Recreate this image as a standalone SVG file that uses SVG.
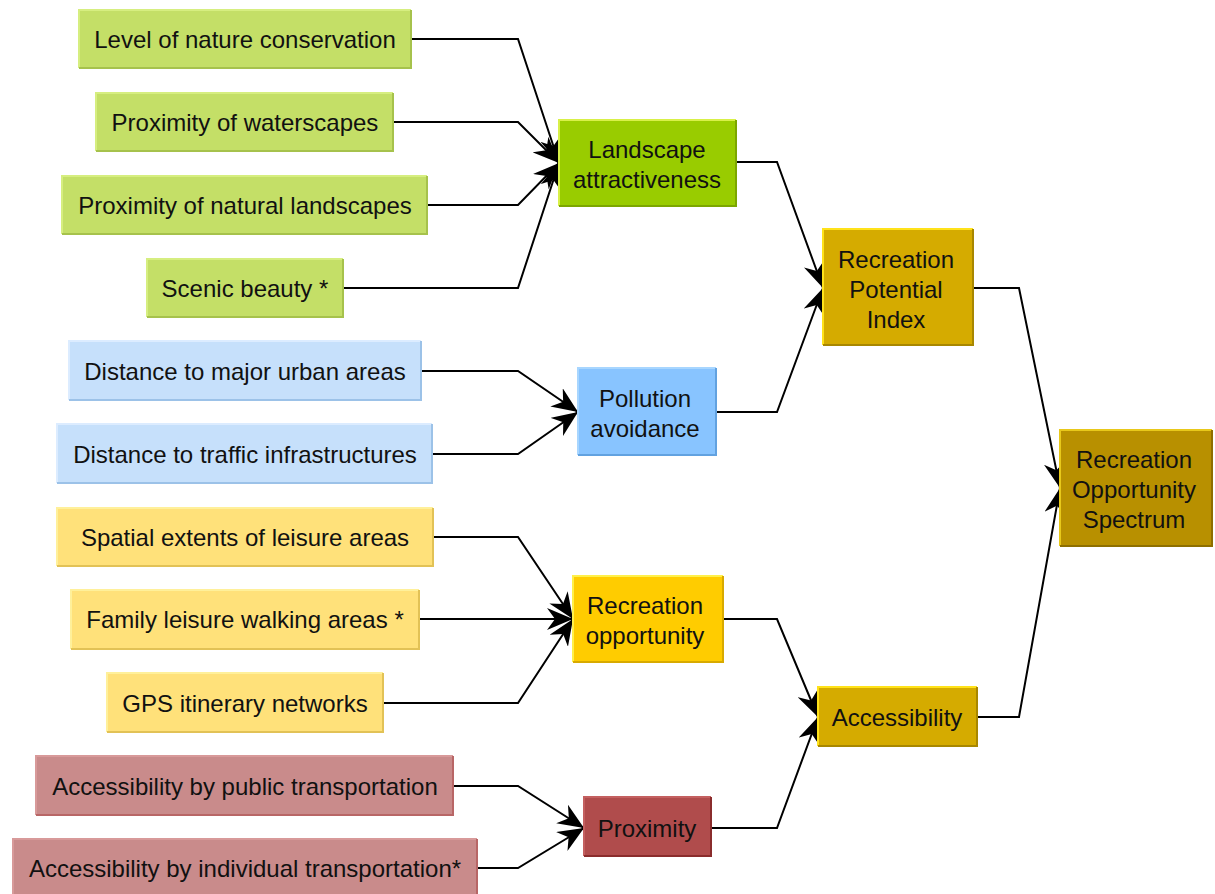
<svg xmlns="http://www.w3.org/2000/svg" width="1215" height="894" viewBox="0 0 1215 894">
<style>
text{font-family:"Liberation Sans",Arial,sans-serif;font-size:24px;fill:#111;text-anchor:middle;dominant-baseline:central}
.c{fill:none;stroke:#000;stroke-width:2;marker-end:url(#ah)}
.hi{fill:none;stroke-width:2}
.lo{fill:none;stroke-width:2}
.lg rect{fill:#c4df67}.lg .hi{stroke:#d6ee80}.lg .lo{stroke:#a6c24c}
.dg rect{fill:#99cc00}.dg .hi{stroke:#d8f048}.dg .lo{stroke:#7ca600}
.lb rect{fill:#c6e0fb}.lb .hi{stroke:#dcecff}.lb .lo{stroke:#9cc2e8}
.bl rect{fill:#88c4ff}.bl .hi{stroke:#a8d6ff}.bl .lo{stroke:#62a2e0}
.ly rect{fill:#ffe17a}.ly .hi{stroke:#fff09a}.ly .lo{stroke:#e2c256}
.ye rect{fill:#ffcc00}.ye .hi{stroke:#fff04a}.ye .lo{stroke:#d8aa00}
.go rect{fill:#d5ab00}.go .hi{stroke:#ffe21a}.go .lo{stroke:#a88700}
.dk rect{fill:#b89000}.dk .hi{stroke:#e8c81a}.dk .lo{stroke:#8e6f00}
.pk rect{fill:#c98b8b}.pk .hi{stroke:#d89a9a}.pk .lo{stroke:#b86666}
.rd rect{fill:#b04c4c}.rd .hi{stroke:#c46060}.rd .lo{stroke:#8a2c2c}
</style>
<defs>
<marker id="ah" markerUnits="userSpaceOnUse" markerWidth="28" markerHeight="22" viewBox="0 0 28 22" refX="26" refY="11" orient="auto">
<path d="M0,0 L26,11 L0,22 L8,11 Z" fill="#000"/>
</marker>
</defs>
<g id="connectors">
<polyline class="c" points="411,39 518,39 559,163"/>
<polyline class="c" points="393,122 518,122 559,163"/>
<polyline class="c" points="427,205 518,205 559,163"/>
<polyline class="c" points="343,288 518,288 559,163"/>
<polyline class="c" points="736,162 777,162 823,288"/>
<polyline class="c" points="716,412 777,412 823,288"/>
<polyline class="c" points="973,288 1019,288 1060,488"/>
<polyline class="c" points="977,717 1019,717 1060,488"/>
<polyline class="c" points="421,371 518,371 578,412"/>
<polyline class="c" points="432,454 518,454 578,412"/>
<polyline class="c" points="433,537 518,537 573,619"/>
<polyline class="c" points="419,619 573,619"/>
<polyline class="c" points="383,703 518,703 573,619"/>
<polyline class="c" points="723,619 777,619 818,717"/>
<polyline class="c" points="453,786 518,786 584,828"/>
<polyline class="c" points="477,868 518,868 584,828"/>
<polyline class="c" points="711,828 777,828 818,717"/>
</g>
<g id="n1" class="lg"><rect x="79" y="10" width="332" height="58"/><path class="hi" d="M79,68 V10 H411"/><path class="lo" d="M411,10 V68 H79"/><text x="245" y="39">Level of nature conservation</text></g>
<g id="n2" class="lg"><rect x="96" y="93" width="297" height="58"/><path class="hi" d="M96,151 V93 H393"/><path class="lo" d="M393,93 V151 H96"/><text x="245" y="122">Proximity of waterscapes</text></g>
<g id="n3" class="lg"><rect x="62" y="176" width="365" height="58"/><path class="hi" d="M62,234 V176 H427"/><path class="lo" d="M427,176 V234 H62"/><text x="245" y="205">Proximity of natural landscapes</text></g>
<g id="n4" class="lg"><rect x="147" y="259" width="196" height="58"/><path class="hi" d="M147,317 V259 H343"/><path class="lo" d="M343,259 V317 H147"/><text x="245" y="288">Scenic beauty *</text></g>
<g id="n5" class="dg"><rect x="559" y="120" width="177" height="86"/><path class="hi" d="M559,206 V120 H736"/><path class="lo" d="M736,120 V206 H559"/><text x="647" y="149">Landscape</text><text x="647" y="179">attractiveness</text></g>
<g id="n6" class="lb"><rect x="69" y="341" width="352" height="59"/><path class="hi" d="M69,400 V341 H421"/><path class="lo" d="M421,341 V400 H69"/><text x="245" y="371">Distance to major urban areas</text></g>
<g id="n7" class="lb"><rect x="57" y="424" width="375" height="59"/><path class="hi" d="M57,483 V424 H432"/><path class="lo" d="M432,424 V483 H57"/><text x="245" y="454">Distance to traffic infrastructures</text></g>
<g id="n8" class="bl"><rect x="578" y="368" width="138" height="87"/><path class="hi" d="M578,455 V368 H716"/><path class="lo" d="M716,368 V455 H578"/><text x="645" y="398">Pollution</text><text x="645" y="428">avoidance</text></g>
<g id="n9" class="go"><rect x="823" y="229" width="150" height="116"/><path class="hi" d="M823,345 V229 H973"/><path class="lo" d="M973,229 V345 H823"/><text x="896" y="259">Recreation</text><text x="896" y="289">Potential</text><text x="896" y="319">Index</text></g>
<g id="n10" class="ly"><rect x="57" y="508" width="376" height="58"/><path class="hi" d="M57,566 V508 H433"/><path class="lo" d="M433,508 V566 H57"/><text x="245" y="537">Spatial extents of leisure areas</text></g>
<g id="n11" class="ly"><rect x="71" y="590" width="348" height="59"/><path class="hi" d="M71,649 V590 H419"/><path class="lo" d="M419,590 V649 H71"/><text x="245" y="619">Family leisure walking areas *</text></g>
<g id="n12" class="ly"><rect x="107" y="673" width="276" height="59"/><path class="hi" d="M107,732 V673 H383"/><path class="lo" d="M383,673 V732 H107"/><text x="245" y="703">GPS itinerary networks</text></g>
<g id="n13" class="ye"><rect x="573" y="576" width="150" height="86"/><path class="hi" d="M573,662 V576 H723"/><path class="lo" d="M723,576 V662 H573"/><text x="645" y="605">Recreation</text><text x="645" y="635">opportunity</text></g>
<g id="n14" class="go"><rect x="818" y="687" width="159" height="59"/><path class="hi" d="M818,746 V687 H977"/><path class="lo" d="M977,687 V746 H818"/><text x="897" y="717">Accessibility</text></g>
<g id="n15" class="dk"><rect x="1060" y="430" width="152" height="116"/><path class="hi" d="M1060,546 V430 H1212"/><path class="lo" d="M1212,430 V546 H1060"/><text x="1134" y="459">Recreation</text><text x="1134" y="489">Opportunity</text><text x="1134" y="519">Spectrum</text></g>
<g id="n16" class="pk"><rect x="36" y="756" width="417" height="59"/><path class="hi" d="M36,815 V756 H453"/><path class="lo" d="M453,756 V815 H36"/><text x="245" y="786">Accessibility by public transportation</text></g>
<g id="n17" class="pk"><rect x="13" y="839" width="464" height="58"/><path class="hi" d="M13,897 V839 H477"/><path class="lo" d="M477,839 V897 H13"/><text x="245" y="868">Accessibility by individual transportation*</text></g>
<g id="n18" class="rd"><rect x="584" y="797" width="127" height="59"/><path class="hi" d="M584,856 V797 H711"/><path class="lo" d="M711,797 V856 H584"/><text x="647" y="828">Proximity</text></g>
</svg>
